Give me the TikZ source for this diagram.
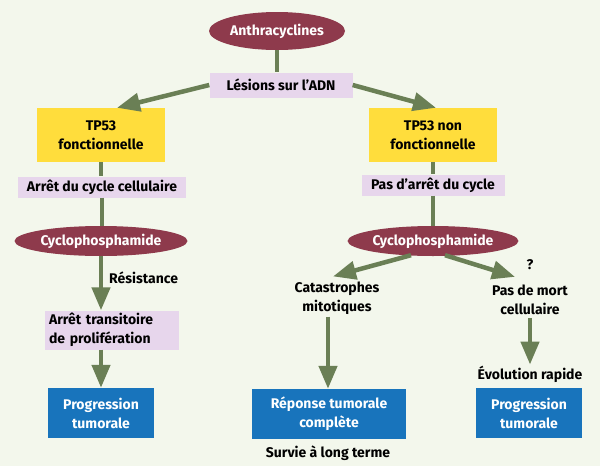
\documentclass[tikz,border=0pt]{standalone}
\usepackage{fontspec}
\setmainfont{Fira Sans}
\usetikzlibrary{arrows.meta,shapes.geometric}
\definecolor{bg}{HTML}{F3F7EC}
\definecolor{maroon}{HTML}{8E3A4C}
\definecolor{lav}{HTML}{E7D6EC}
\definecolor{yel}{HTML}{FFDD3C}
\definecolor{blu}{HTML}{1874BC}
\definecolor{agreen}{HTML}{6A7F55}
\begin{document}
\begin{tikzpicture}[x=1pt,y=-1pt,
  font=\bfseries\fontsize{14}{19}\selectfont,
  ell/.style={ellipse, fill=maroon, text=white, inner sep=0pt},
  lavbox/.style={fill=lav, inner sep=0pt, text=black},
  yelbox/.style={fill=yel, inner sep=0pt, align=center, minimum width=128pt, minimum height=54pt},
  blubox/.style={fill=blu, text=white, inner sep=0pt, align=center, minimum height=50pt},
  lbl/.style={align=center, inner sep=1pt},
  conn/.style={draw=agreen, line width=4.5pt},
  arr/.style={draw=agreen, line width=4.5pt, -{Triangle[width=18pt,length=23pt]}}
]
\fill[bg] (0,0) rectangle (600,466);
\useasboundingbox (0,0) rectangle (600,466);

\node[ell, minimum width=136pt, minimum height=38pt] (anth) at (277,31) {Anthracyclines};
\node[lavbox, minimum width=143pt, minimum height=25pt] (les) at (281,85) {Lésions sur l'ADN};
\node[yelbox] (tp1) at (101,135) {TP53\\fonctionnelle};
\node[yelbox] (tp2) at (433,135) {TP53 non\\fonctionnelle};
\node[lavbox, minimum width=168pt, minimum height=21pt] (arc) at (102,187) {Arrêt du cycle cellulaire};
\node[lavbox, minimum width=143pt, minimum height=21pt] (pas) at (433,185) {Pas d'arrêt du cycle};
\node[ell, minimum width=173pt, minimum height=30pt] (cyc1) at (101,241) {Cyclophosphamide};
\node[ell, minimum width=165pt, minimum height=30pt] (cyc2) at (433,241) {Cyclophosphamide};
\node[lbl, anchor=west] (res) at (108,278) {Résistance};
\node[lavbox, minimum width=134pt, minimum height=39pt, text width=126pt, align=left, inner xsep=4pt, inner ysep=0pt] (trans) at (112,330) {Arrêt transitoire\\de prolifération};
\node[blubox, minimum width=106pt] (prog1) at (101,413) {Progression\\tumorale};
\node[lbl] (cat) at (337,298) {Catastrophes\\mitotiques};
\node[lbl] (q) at (530,265) {?};
\node[lbl] (pdm) at (530,300) {Pas de mort\\cellulaire};
\node[lbl] (evo) at (530,374) {Évolution rapide};
\node[blubox, minimum width=154pt] (rep) at (329,414) {Réponse tumorale\\complète};
\node[lbl] (surv) at (328,453) {Survie à long terme};
\node[blubox, minimum width=106pt] (prog2) at (529,413) {Progression\\tumorale};

\draw[conn] (anth.south) -- (anth.south |- les.north);
\draw[arr] (les.west) -- ([xshift=16pt]tp1.north);
\draw[arr] (les.east) -- ([xshift=3pt]tp2.north);
\draw[conn] (tp1.south) -- (tp1.south |- arc.north);
\draw[conn] (arc.south) -- (arc.south |- cyc1.north);
\draw[conn] (tp2.south) -- (pas.north);
\draw[conn] (pas.south) -- (pas.south |- cyc2.north);
\draw[arr] (cyc1.south) -- (cyc1.south |- trans.north);
\draw[arr] (prog1.north |- trans.south) -- (prog1.north);
\draw[arr] ([xshift=-22pt,yshift=1pt]cyc2.south) -- ([xshift=-4pt,yshift=4pt]cat.north);
\draw[arr] ([xshift=12pt,yshift=1pt]cyc2.south) -- ([xshift=-15pt,yshift=7pt]pdm.north);
\draw[arr] ([xshift=-9pt,yshift=-1pt]cat.south) -- ([xshift=-9pt]cat.south |- rep.north);
\draw[arr] ([yshift=-2pt]pdm.south) -- (evo.north);
\end{tikzpicture}
\end{document}
